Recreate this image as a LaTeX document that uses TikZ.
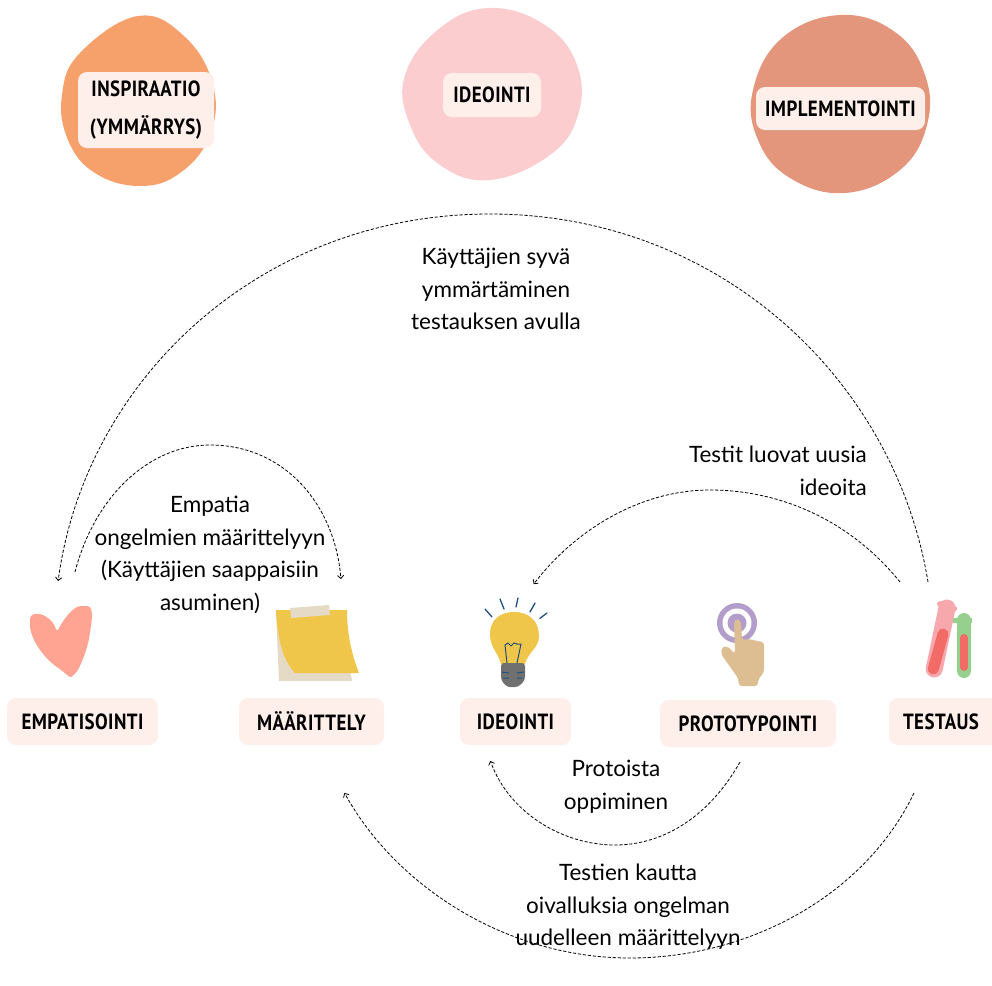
\documentclass[tikz,border=0pt]{standalone}
\usepackage{fontspec}
\setmainfont{Lato}
\newfontfamily\labelfont[FakeStretch=0.86,LetterSpace=2]{PT Sans}
\usetikzlibrary{
  arrows.meta,
  positioning,
}
\definecolor{blobfirst}{RGB}{246, 160, 108}
\definecolor{blobsecond}{RGB}{251, 205, 207}
\definecolor{blobthird}{RGB}{228, 150, 125}
\definecolor{labelfill}{RGB}{255, 239, 234}
\definecolor{heartpink}{RGB}{255, 163, 146}
\definecolor{noteyellow}{RGB}{240, 198, 74}
\definecolor{notetan}{RGB}{229, 218, 197}
\definecolor{raysblue}{RGB}{31, 78, 128}
\definecolor{basegray}{RGB}{112, 112, 112}
\definecolor{handtan}{RGB}{220, 190, 146}
\definecolor{ringpurple}{RGB}{179, 157, 203}
\definecolor{tubepink}{RGB}{247, 168, 172}
\definecolor{tubegreen}{RGB}{151, 207, 142}
\definecolor{liquidred}{RGB}{242, 107, 102}
\tikzset{
  >=Straight Barb[],
  shorten >=1pt,
  phasebox/.style={rectangle,rounded corners=9,fill=labelfill,inner sep=0,
    font=\labelfont\bfseries\fontsize{22}{38}\selectfont,align=center},
  caption/.style={inner sep=0,align=center,font=\fontsize{22.5}{32.5}\selectfont},
  looparc/.style={draw,dashed,->,line width=0.8pt,dash pattern=on 3.2pt off 1.8pt},
}
\begin{document}
\begin{tikzpicture}[x=1pt,y=-1pt]
  \useasboundingbox (0,0) rectangle (992,985);

  % top blobs
  \fill[blobfirst] plot[smooth cycle,tension=0.7] coordinates {(138,16) (185,37) (213,85) (210,135) (180,173) (140,186) (95,173) (68,140) (62,95) (80,53)};
  \fill[blobsecond] plot[smooth cycle,tension=0.7] coordinates {(490,8) (545,25) (577,65) (578,115) (550,155) (490,180) (440,165) (410,125) (405,75) (440,28)};
  \fill[blobthird] plot[smooth cycle,tension=0.7] coordinates {(840,15) (895,32) (925,75) (927,125) (900,170) (845,193) (790,178) (758,140) (753,90) (782,38)};

  \node[phasebox,minimum width=136,minimum height=76] (inspiraatio) at (146,110) {INSPIRAATIO\\(YMMÄRRYS)};
  \node[phasebox,minimum width=98,minimum height=44] (ideointitop) at (492,95) {IDEOINTI};
  \node[phasebox,minimum width=169,minimum height=43] (implementointi) at (840.5,108.5) {IMPLEMENTOINTI};

  % bottom row labels
  \node[phasebox,minimum width=151,minimum height=47] (empatisointi) at (82.5,721.5) {EMPATISOINTI};
  \node[phasebox,minimum width=145,minimum height=47] (maarittely) at (311.5,721.5) {MÄÄRITTELY};
  \node[phasebox,minimum width=111,minimum height=47] (ideointi) at (515.5,721.5) {IDEOINTI};
  \node[phasebox,minimum width=176,minimum height=47] (prototypointi) at (748,723.5) {PROTOTYPOINTI};
  \node[phasebox,minimum width=122,minimum height=47] (testaus) at (950,721.5) {\hspace*{-18pt}TESTAUS};

  % heart
  \fill[heartpink,rounded corners=3] (30,622) .. controls (30,610) and (50,612) .. (57,632)
    .. controls (64,618) and (74,606) .. (84,606) .. controls (94,606) and (92,620) .. (90,632)
    .. controls (88,648) and (80,668) .. (74,675) .. controls (70,678) and (66,674) .. (60,669)
    .. controls (46,660) and (30,640) .. (30,622) -- cycle;

  % note
  \fill[notetan] (276,612) -- (279,681) -- (352,681) -- (350,668) -- cycle;
  \fill[noteyellow] (276,610) -- (347,610) .. controls (347,635) and (352,655) .. (359,673)
    -- (295,673) .. controls (282,660) and (277,635) .. (276,610) -- cycle;
  \fill[notetan] (290,608) -- (329,605) -- (330,615) -- (291,618) -- cycle;

  % bulb
  \fill[noteyellow] (514,612) .. controls (530,612) and (539,622) .. (539,636)
    .. controls (539,648) and (528,652) .. (525,664) -- (501,664)
    .. controls (498,652) and (490,648) .. (490,634) .. controls (490,620) and (500,612) .. (514,612) -- cycle;
  \fill[basegray,rounded corners=3] (501,663) -- (525,663) -- (525,680) -- (518,687) -- (507,687) -- (501,680) -- cycle;
  \draw[raysblue,line width=1.3pt,line cap=round] (485,609) -- (492,617) (500,599) -- (504,609) (518,598) -- (516,607) (535,603) -- (530,612) (547,613) -- (539,619);
  \draw[raysblue,line width=1pt] (507,663) -- (505,645) -- (508,643) -- (511,646) -- (514,643) -- (517,644) -- (521,644) -- (517,663)
    (502,672) -- (509,673) (517,673) -- (524,672) (503,678) -- (509,678) (517,678) -- (523,678);

  % hand
  \fill[ringpurple] (737,623) circle (20);
  \fill[white] (737,623) circle (14.5);
  \fill[ringpurple] (737,623) circle (9.5);
  \fill[handtan,rounded corners=3] (734,622) -- (737,618) -- (741,622) -- (742,640) -- (750,639) -- (757,641) -- (764,642) -- (764,672)
    -- (758,680) -- (758,686) -- (739,686) -- (738,678) -- (721,654) -- (722,647) -- (727,646) -- (735,654) -- cycle;

  % tubes
  \draw[tubepink,line width=17,line cap=round] (947,608) -- (934,670);
  \draw[tubepink,line width=6,line cap=round] (940,604) -- (955,609);
  \draw[liquidred,line width=11,line cap=round] (943,634) -- (933,670);
  \draw[tubegreen,line width=14,line cap=round] (964,620) -- (964,672);
  \draw[tubegreen,line width=5] (953,620) -- (973,620);
  \draw[liquidred,line width=8,line cap=round] (964,638) -- (964,668);

  % texts
  \node[caption] (syva) at (496,289) {Käyttäjien syvä\\ymmärtäminen\\testauksen avulla};
  \node[caption] (empatia) at (210,555) {Empatia\\ongelmien määrittelyyn\\(Käyttäjien saappaisiin\\asuminen)};
  \node[caption,align=right,anchor=east] (uusia) at (867,471) {Testit luovat uusia\\ideoita};
  \node[caption] (protoista) at (616,786.5) {Protoista\\oppiminen};
  \node[caption] (testien) at (628,907) {Testien kautta\\oivalluksia ongelman\\uudelleen määrittelyyn};

  % connector ends
  \coordinate (bigstart) at (928,582);
  \coordinate (bigtop) at (490,214);
  \coordinate (bigend) at (58,582);
  \coordinate (smallstart) at (75,572);
  \coordinate (smalltop) at (210,445);
  \coordinate (smallend) at (341,580);
  \coordinate (newstart) at (900,582);
  \coordinate (newend) at (533,585);
  \coordinate (protostart) at (740,762);
  \coordinate (protoend) at (490,760);
  \coordinate (loopstart) at (914,793);
  \coordinate (loopend) at (344,792);

  \path[looparc] (bigstart) .. controls (895,380) and (720,214) .. (bigtop) .. controls (260,214) and (85,380) .. (bigend);
  \path[looparc] (smallstart) .. controls (95,495) and (150,445) .. (smalltop) .. controls (285,445) and (335,505) .. (smallend);
  \path[looparc] (newstart) .. controls (850,520) and (780,490) .. (710,490) .. controls (640,490) and (575,530) .. (newend);
  \path[looparc] (protostart) .. controls (710,815) and (665,845) .. (615,845) .. controls (565,845) and (510,815) .. (protoend);
  \path[looparc] (loopstart) .. controls (865,895) and (750,958) .. (630,958) .. controls (505,958) and (395,885) .. (loopend);
\end{tikzpicture}
\end{document}
